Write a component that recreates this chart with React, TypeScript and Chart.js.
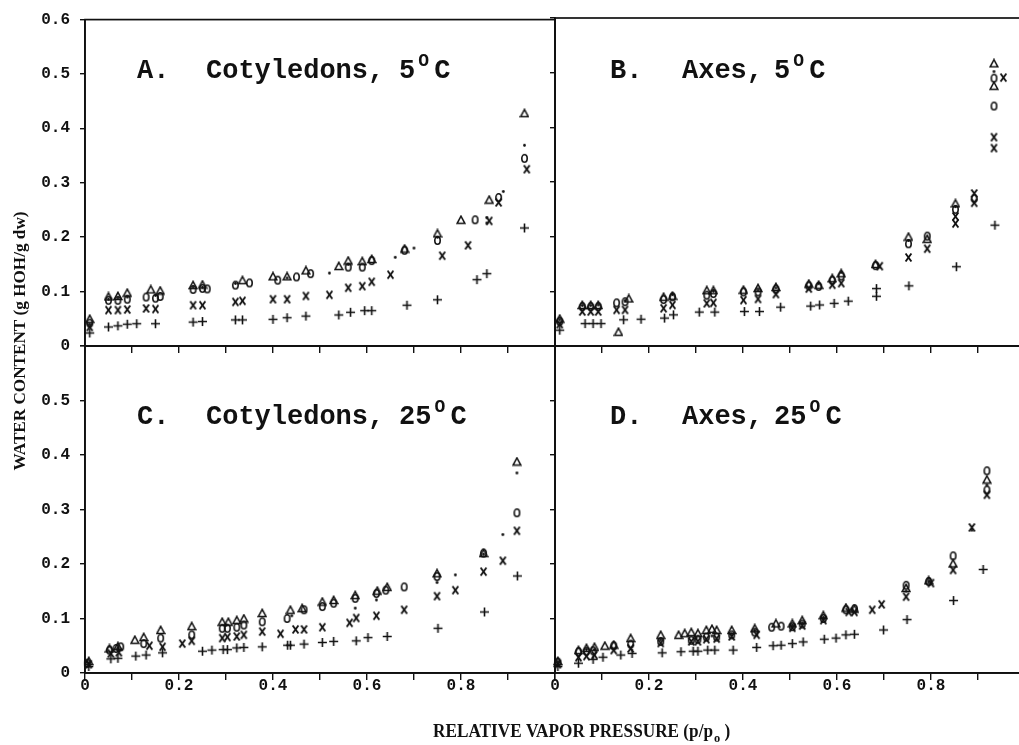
import React, { useEffect, useRef } from 'react';
import { Chart, registerables } from 'chart.js';
Chart.register(...registerables);

type Pt = [number, number];

// ---------------- data ----------------
const X_TICKS_LABELLED = [0, 0.2, 0.4, 0.6, 0.8];
const Y_TICKS = [0, 0.1, 0.2, 0.3, 0.4, 0.5, 0.6];
const SERIES_NAMES = ['triangle', 'circle', 'dot', 'x', 'plus'];

// A. Cotyledons, 5 C
const A_tri: Pt[] = [[0.01,0.050],[0.05,0.091],[0.07,0.092],[0.09,0.098],[0.14,0.104],[0.16,0.102],[0.23,0.112],[0.25,0.113],[0.335,0.121],[0.40,0.128],[0.43,0.128],[0.47,0.139],[0.54,0.147],[0.56,0.157],[0.59,0.156],[0.61,0.160],[0.68,0.179],[0.75,0.207],[0.80,0.232],[0.86,0.269],[0.935,0.428]];
const A_circ: Pt[] = [[0.01,0.042],[0.05,0.084],[0.07,0.084],[0.09,0.086],[0.13,0.090],[0.15,0.088],[0.16,0.091],[0.23,0.104],[0.25,0.106],[0.26,0.105],[0.32,0.112],[0.35,0.116],[0.41,0.121],[0.45,0.127],[0.48,0.133],[0.56,0.145],[0.59,0.145],[0.61,0.157],[0.68,0.176],[0.75,0.194],[0.83,0.232],[0.88,0.273],[0.935,0.345]];
const A_dot: Pt[] = [[0.01,0.040],[0.05,0.086],[0.07,0.088],[0.09,0.090],[0.15,0.093],[0.23,0.108],[0.25,0.108],[0.32,0.115],[0.43,0.125],[0.52,0.134],[0.56,0.150],[0.66,0.163],[0.70,0.180],[0.75,0.200],[0.855,0.236],[0.855,0.226],[0.89,0.284],[0.935,0.369]];
const A_x: Pt[] = [[0.01,0.035],[0.05,0.066],[0.07,0.066],[0.09,0.067],[0.13,0.069],[0.15,0.068],[0.23,0.075],[0.25,0.075],[0.32,0.081],[0.335,0.083],[0.40,0.086],[0.43,0.086],[0.47,0.092],[0.52,0.094],[0.56,0.107],[0.59,0.110],[0.61,0.118],[0.65,0.131],[0.76,0.166],[0.815,0.185],[0.86,0.230],[0.88,0.264],[0.94,0.325]];
const A_plus: Pt[] = [[0.01,0.024],[0.05,0.035],[0.07,0.037],[0.09,0.040],[0.11,0.041],[0.15,0.041],[0.23,0.044],[0.25,0.045],[0.32,0.048],[0.335,0.048],[0.40,0.049],[0.43,0.052],[0.47,0.055],[0.54,0.057],[0.565,0.062],[0.595,0.065],[0.61,0.065],[0.685,0.075],[0.75,0.085],[0.834,0.122],[0.855,0.133],[0.935,0.217]];

// B. Axes, 5 C
const B_tri: Pt[] = [[0.01,0.050],[0.058,0.075],[0.076,0.075],[0.092,0.075],[0.135,0.026],[0.157,0.087],[0.231,0.090],[0.25,0.092],[0.323,0.102],[0.337,0.102],[0.401,0.103],[0.432,0.106],[0.47,0.108],[0.54,0.114],[0.561,0.112],[0.59,0.124],[0.609,0.133],[0.682,0.150],[0.752,0.200],[0.792,0.196],[0.852,0.261],[0.934,0.517],[0.934,0.476]];
const B_circ: Pt[] = [[0.01,0.045],[0.058,0.072],[0.076,0.072],[0.092,0.072],[0.131,0.079],[0.149,0.081],[0.231,0.085],[0.25,0.090],[0.323,0.093],[0.337,0.096],[0.401,0.099],[0.432,0.099],[0.47,0.104],[0.54,0.110],[0.561,0.109],[0.59,0.120],[0.609,0.128],[0.682,0.147],[0.752,0.187],[0.792,0.201],[0.852,0.250],[0.892,0.270],[0.934,0.490],[0.934,0.439]];
const B_dot: Pt[] = [[0.01,0.048],[0.058,0.074],[0.076,0.074],[0.092,0.075],[0.149,0.083],[0.25,0.094],[0.337,0.100],[0.432,0.102],[0.47,0.106],[0.561,0.114],[0.609,0.135],[0.752,0.193],[0.852,0.255],[0.934,0.502]];
const B_x: Pt[] = [[0.01,0.040],[0.058,0.063],[0.076,0.063],[0.092,0.063],[0.131,0.066],[0.149,0.066],[0.231,0.069],[0.25,0.075],[0.323,0.078],[0.337,0.079],[0.401,0.084],[0.432,0.086],[0.47,0.095],[0.54,0.105],[0.59,0.112],[0.609,0.115],[0.691,0.146],[0.752,0.162],[0.792,0.178],[0.852,0.237],[0.852,0.224],[0.892,0.279],[0.892,0.262],[0.954,0.491],[0.934,0.382],[0.934,0.362]];
const B_plus: Pt[] = [[0.01,0.029],[0.064,0.041],[0.081,0.041],[0.098,0.041],[0.146,0.048],[0.183,0.049],[0.233,0.051],[0.252,0.057],[0.307,0.062],[0.34,0.062],[0.403,0.063],[0.435,0.063],[0.48,0.071],[0.544,0.073],[0.563,0.075],[0.594,0.078],[0.624,0.082],[0.684,0.105],[0.684,0.091],[0.753,0.110],[0.854,0.145],[0.936,0.221]];

// C. Cotyledons, 25 C
const C_tri: Pt[] = [[0.008,0.022],[0.052,0.045],[0.07,0.049],[0.106,0.061],[0.125,0.066],[0.161,0.079],[0.227,0.086],[0.292,0.094],[0.305,0.094],[0.323,0.097],[0.338,0.100],[0.377,0.110],[0.437,0.116],[0.462,0.119],[0.505,0.131],[0.529,0.134],[0.575,0.143],[0.622,0.151],[0.643,0.158],[0.749,0.183],[0.848,0.220],[0.919,0.388]];
const C_circ: Pt[] = [[0.005,0.018],[0.052,0.042],[0.066,0.045],[0.076,0.048],[0.125,0.054],[0.161,0.064],[0.227,0.070],[0.292,0.082],[0.303,0.082],[0.323,0.084],[0.338,0.088],[0.377,0.094],[0.430,0.100],[0.466,0.116],[0.505,0.122],[0.529,0.128],[0.575,0.137],[0.620,0.146],[0.640,0.152],[0.679,0.158],[0.749,0.177],[0.848,0.220],[0.919,0.294]];
const C_dot: Pt[] = [[0.005,0.020],[0.07,0.046],[0.30,0.088],[0.44,0.105],[0.575,0.119],[0.620,0.134],[0.749,0.166],[0.788,0.180],[0.848,0.218],[0.889,0.254],[0.919,0.367]];
const C_x: Pt[] = [[0.008,0.016],[0.055,0.036],[0.072,0.038],[0.137,0.050],[0.165,0.048],[0.207,0.054],[0.227,0.059],[0.292,0.064],[0.303,0.066],[0.323,0.067],[0.338,0.070],[0.377,0.076],[0.416,0.072],[0.448,0.080],[0.466,0.080],[0.505,0.084],[0.563,0.092],[0.577,0.101],[0.620,0.105],[0.679,0.116],[0.749,0.141],[0.788,0.152],[0.848,0.186],[0.889,0.206],[0.919,0.261]];
const C_plus: Pt[] = [[0.008,0.012],[0.055,0.026],[0.07,0.027],[0.108,0.031],[0.13,0.033],[0.165,0.037],[0.250,0.040],[0.270,0.042],[0.294,0.043],[0.303,0.043],[0.323,0.046],[0.338,0.047],[0.377,0.048],[0.431,0.051],[0.437,0.051],[0.466,0.053],[0.505,0.056],[0.529,0.058],[0.577,0.059],[0.602,0.065],[0.643,0.067],[0.751,0.082],[0.850,0.112],[0.920,0.178]];

// D. Axes, 25 C
const D_tri: Pt[] = [[0.006,0.022],[0.05,0.042],[0.067,0.046],[0.084,0.048],[0.106,0.050],[0.125,0.052],[0.161,0.064],[0.225,0.070],[0.263,0.070],[0.276,0.073],[0.290,0.075],[0.304,0.073],[0.322,0.079],[0.334,0.081],[0.344,0.079],[0.376,0.079],[0.425,0.082],[0.47,0.091],[0.505,0.091],[0.526,0.097],[0.571,0.106],[0.619,0.120],[0.637,0.118],[0.747,0.156],[0.795,0.170],[0.847,0.201],[0.919,0.355]];
const D_circ: Pt[] = [[0.006,0.020],[0.05,0.039],[0.067,0.040],[0.081,0.041],[0.125,0.050],[0.161,0.053],[0.225,0.058],[0.29,0.060],[0.304,0.062],[0.322,0.066],[0.344,0.066],[0.376,0.070],[0.425,0.075],[0.461,0.084],[0.481,0.086],[0.505,0.085],[0.526,0.090],[0.571,0.100],[0.619,0.116],[0.637,0.118],[0.747,0.161],[0.795,0.168],[0.847,0.215],[0.919,0.371],[0.919,0.336]];
const D_dot: Pt[] = [[0.006,0.021],[0.067,0.043],[0.084,0.043],[0.225,0.061],[0.30,0.064],[0.334,0.068],[0.376,0.072],[0.425,0.078],[0.505,0.088],[0.526,0.092],[0.571,0.102],[0.747,0.150],[0.795,0.167],[0.887,0.262],[0.919,0.345]];
const D_x: Pt[] = [[0.006,0.016],[0.05,0.029],[0.067,0.031],[0.084,0.033],[0.125,0.042],[0.161,0.045],[0.225,0.055],[0.29,0.058],[0.304,0.058],[0.322,0.062],[0.344,0.063],[0.376,0.067],[0.429,0.070],[0.505,0.083],[0.526,0.087],[0.571,0.097],[0.625,0.112],[0.637,0.112],[0.675,0.116],[0.695,0.126],[0.747,0.140],[0.80,0.165],[0.847,0.189],[0.887,0.267],[0.919,0.327]];
const D_plus: Pt[] = [[0.006,0.012],[0.05,0.018],[0.081,0.025],[0.102,0.029],[0.140,0.033],[0.164,0.036],[0.228,0.037],[0.268,0.039],[0.294,0.040],[0.304,0.040],[0.325,0.042],[0.34,0.042],[0.379,0.042],[0.429,0.047],[0.464,0.050],[0.481,0.051],[0.505,0.054],[0.528,0.057],[0.573,0.062],[0.598,0.064],[0.619,0.070],[0.637,0.071],[0.699,0.079],[0.749,0.098],[0.848,0.133],[0.911,0.190]];

const PANEL_LETTERS = ['A.', 'B.', 'C.', 'D.'];
const PANEL_NAMES = ['Cotyledons,', 'Axes,', 'Cotyledons,', 'Axes,'];
const PANEL_TEMPS = ['5', '5', '25', '25'];
const Y_TITLE = 'WATER CONTENT (g HOH/g dw)';
const X_TITLE = 'RELATIVE VAPOR PRESSURE (p/p';

// ---------------- layout ----------------
const CW = 1030;
const CH = 745;
const YW = 85;
const XH = 40;

type Panel = {
  series: Pt[][];
  left: number; right: number; top: number; bottom: number;
  xLabels: boolean; yLabels: boolean; yMaxLabel: boolean;
  title: { letterX: number; nameX: number; tempX: number; baseY: number };
};

const PANELS: Panel[] = [
  { series: [A_tri, A_circ, A_dot, A_x, A_plus], left: 85, right: 555, top: 18, bottom: 346, xLabels: false, yLabels: true, yMaxLabel: true, title: { letterX: 137, nameX: 206, tempX: 399, baseY: 78 } },
  { series: [B_tri, B_circ, B_dot, B_x, B_plus], left: 555, right: 1025, top: 18, bottom: 346, xLabels: false, yLabels: false, yMaxLabel: false, title: { letterX: 610, nameX: 682, tempX: 774, baseY: 78 } },
  { series: [C_tri, C_circ, C_dot, C_x, C_plus], left: 85, right: 555, top: 346, bottom: 673, xLabels: true, yLabels: true, yMaxLabel: false, title: { letterX: 137, nameX: 206, tempX: 399, baseY: 424 } },
  { series: [D_tri, D_circ, D_dot, D_x, D_plus], left: 555, right: 1025, top: 346, bottom: 673, xLabels: true, yLabels: false, yMaxLabel: false, title: { letterX: 610, nameX: 682, tempX: 774, baseY: 424 } },
];

function makeMarkers(): HTMLCanvasElement[] {
  const mk = (w: number, h: number, draw: (g: CanvasRenderingContext2D) => void) => {
    const c = document.createElement('canvas');
    c.width = w; c.height = h;
    const g = c.getContext('2d')!;
    g.strokeStyle = '#111'; g.fillStyle = '#111'; g.lineWidth = 1.5;
    draw(g);
    return c;
  };
  const tri = mk(10, 10, g => { g.beginPath(); g.moveTo(5, 1.3); g.lineTo(8.8, 8.4); g.lineTo(1.2, 8.4); g.closePath(); g.stroke(); });
  const circ = mk(9, 11, g => { g.lineWidth = 1.6; g.beginPath(); g.ellipse(4.5, 5.5, 2.7, 3.7, 0, 0, Math.PI * 2); g.stroke(); });
  const dot = mk(5, 5, g => { g.beginPath(); g.arc(2.5, 2.5, 1.4, 0, Math.PI * 2); g.fill(); });
  const xm = mk(9, 11, g => { g.lineWidth = 1.9; g.beginPath(); g.moveTo(1.6, 1.5); g.lineTo(7.4, 9.5); g.moveTo(7.4, 1.5); g.lineTo(1.6, 9.5); g.stroke(); });
  const plus = mk(11, 11, g => { g.lineWidth = 1.6; g.beginPath(); g.moveTo(5.5, 1); g.lineTo(5.5, 10); g.moveTo(1, 5.5); g.lineTo(10, 5.5); g.stroke(); });
  return [tri, circ, dot, xm, plus];
}

const boxPlugin = {
  id: 'panelBox',
  afterDraw(chart: any) {
    const { ctx, chartArea } = chart;
    ctx.save();
    ctx.strokeStyle = '#111';
    ctx.lineWidth = 1.7;
    ctx.strokeRect(chartArea.left, chartArea.top, chartArea.right - chartArea.left, chartArea.bottom - chartArea.top);
    ctx.restore();
  },
};

function titlePlugin(idx: number) {
  return {
    id: 'panelTitle' + idx,
    afterDraw(chart: any) {
      const ctx: CanvasRenderingContext2D = chart.ctx;
      const t = PANELS[idx].title;
      ctx.save();
      ctx.fillStyle = '#111';
      ctx.textBaseline = 'alphabetic';
      ctx.textAlign = 'left';
      const big = 'bold 27px "Liberation Mono"';
      ctx.font = big;
      ctx.fillText(PANEL_LETTERS[idx], t.letterX, t.baseY);
      ctx.fillText(PANEL_NAMES[idx], t.nameX, t.baseY);
      ctx.fillText(PANEL_TEMPS[idx], t.tempX, t.baseY);
      const tw = ctx.measureText(PANEL_TEMPS[idx]).width;
      ctx.font = 'bold 18px "Liberation Mono"';
      ctx.fillText('O', t.tempX + tw + 3, t.baseY - 12);
      ctx.font = big;
      ctx.fillText('C', t.tempX + tw + 19, t.baseY);
      ctx.restore();
    },
  };
}

const axisTitlePlugin = {
  id: 'axisTitles',
  afterDraw(chart: any) {
    const ctx: CanvasRenderingContext2D = chart.ctx;
    ctx.save();
    ctx.fillStyle = '#111';
    ctx.textBaseline = 'alphabetic';
    ctx.font = 'bold 17px "Liberation Serif"';
    const yw = ctx.measureText(Y_TITLE).width;
    ctx.translate(25, 341);
    ctx.rotate(-Math.PI / 2);
    ctx.scale(259 / yw, 1);
    ctx.textAlign = 'center';
    ctx.fillText(Y_TITLE, 0, 0);
    ctx.restore();

    ctx.save();
    ctx.fillStyle = '#111';
    ctx.font = 'bold 18px "Liberation Serif"';
    ctx.textAlign = 'left';
    const xw = ctx.measureText(X_TITLE).width;
    const sx = 280 / xw;
    ctx.translate(433, 737);
    ctx.scale(sx, 1);
    ctx.fillText(X_TITLE, 0, 0);
    ctx.font = 'bold 13px "Liberation Serif"';
    ctx.fillText('o', xw + 1, 5);
    ctx.font = 'bold 18px "Liberation Serif"';
    ctx.fillText(')', xw + 12, 0);
    ctx.restore();
  },
};

function makeConfig(idx: number, markers: HTMLCanvasElement[]): any {
  const p = PANELS[idx];
  const tickFont = { family: 'Liberation Mono', size: 16, weight: 'bold' as const };
  const plugins: any[] = [boxPlugin, titlePlugin(idx)];
  if (idx === 0) plugins.push(axisTitlePlugin);
  return {
    type: 'scatter',
    data: {
      datasets: p.series.map((s, i) => ({
        label: SERIES_NAMES[i],
        data: s.map(([x, y]) => ({ x, y })),
        pointStyle: markers[i],
        pointRadius: 4,
        showLine: false,
        clip: false,
      })),
    },
    options: {
      responsive: false,
      animation: false,
      events: [],
      layout: { padding: { left: p.left - YW, right: CW - p.right, top: p.top, bottom: CH - p.bottom - XH } },
      plugins: { legend: { display: false }, tooltip: { enabled: false } },
      scales: {
        x: {
          type: 'linear', min: 0, max: 1,
          afterFit: (s: any) => { s.height = XH; },
          afterBuildTicks: (s: any) => {
            s.ticks = [0, 0.1, 0.2, 0.3, 0.4, 0.5, 0.6, 0.7, 0.8, 0.9, 1.0].map(v => ({ value: v }));
          },
          ticks: {
            display: p.xLabels,
            autoSkip: false, maxRotation: 0, minRotation: 0,
            font: tickFont, color: '#111', padding: -4,
            callback: (v: number) => {
              const hit = X_TICKS_LABELLED.find(t => Math.abs(t - v) < 1e-6);
              return hit === undefined ? '' : (hit === 0 ? '0' : hit.toFixed(1));
            },
          },
          grid: { drawOnChartArea: false, drawTicks: true, tickLength: 7, color: '#111', lineWidth: 1.4 },
          border: { display: true, color: '#111', width: 1.7 },
        },
        y: {
          type: 'linear', min: 0, max: 0.6,
          afterFit: (s: any) => { s.width = YW; },
          afterBuildTicks: (s: any) => { s.ticks = Y_TICKS.map(v => ({ value: v })); },
          ticks: {
            display: p.yLabels,
            autoSkip: false,
            font: tickFont, color: '#111', padding: 10,
            callback: (v: number) => {
              if (v > 0.55 && !p.yMaxLabel) return '';
              return Math.abs(v) < 1e-9 ? '0' : v.toFixed(1);
            },
          },
          grid: { drawOnChartArea: false, drawTicks: true, tickLength: 5, color: '#111', lineWidth: 1.4 },
          border: { display: true, color: '#111', width: 1.7 },
        },
      },
    },
    plugins,
  };
}

export default function App() {
  const refs = [useRef<HTMLCanvasElement>(null), useRef<HTMLCanvasElement>(null), useRef<HTMLCanvasElement>(null), useRef<HTMLCanvasElement>(null)];
  useEffect(() => {
    const markers = makeMarkers();
    const charts = refs.map((r, i) => new Chart(r.current!, makeConfig(i, markers)));
    return () => charts.forEach(c => c.destroy());
  }, []);
  return (
    <div style={{ position: 'absolute', left: 0, top: 0, width: 1019, height: 745, overflow: 'hidden', background: '#fff' }}>
      {refs.map((r, i) => (
        <canvas key={i} ref={r} width={CW} height={CH} style={{ position: 'absolute', left: 0, top: 0, width: CW, height: CH }} />
      ))}
    </div>
  );
}
